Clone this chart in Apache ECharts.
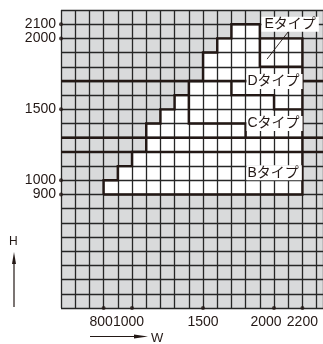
<!DOCTYPE html>
<html><head><meta charset="utf-8">
<script src="https://cdn.jsdelivr.net/npm/echarts@6/dist/echarts.min.js"></script>
<style>html,body{margin:0;padding:0;background:#fff}#c{width:323px;height:344px}</style>
</head><body><div id="c"></div>
<script>
// ---- data ----
const xTickLabels = [800, 1000, 1500, 2000, 2200];
const yTickLabels = [900, 1000, 1500, 2000, 2100];
// outline of the usable W×H area (staircase)
const outline = [[800,900],[2200,900],[2200,2000],[1900,2000],[1900,2100],[1700,2100],[1700,2000],[1600,2000],[1600,1900],[1500,1900],[1500,1700],[1400,1700],[1400,1600],[1300,1600],[1300,1500],[1200,1500],[1200,1400],[1100,1400],[1100,1200],[1000,1200],[1000,1100],[900,1100],[900,1000],[800,1000]];
// type boundaries
const boundaryE = [[1900,2000],[1900,1800],[2200,1800]];
const boundaryD = [[1700,1700],[1700,1600],[2000,1600],[2000,1500],[2200,1500]];
const boundaryC = [[1400,1600],[1400,1400],[1800,1400],[1800,1300]];
const fullLineH = [1700, 1300, 1200];
const typeNames = ['Eタイプ','Dタイプ','Cタイプ','Bタイプ'];
const typeLabelPos = [[1912,2100],[1806,1697],[1806,1400],[1806,1053]];
const leader = [[2099,2045],[1951,1854]];

const X_MIN = 500, X_MAX = 2345, Y_MIN = 100, Y_MAX = 2200;
const INK = '#231815';
const FONT = 'Liberation Sans, Arial, sans-serif';

const chart = echarts.init(document.getElementById('c'));
const paths = [outline.concat([outline[0]]), boundaryE, boundaryD, boundaryC]
  .concat(fullLineH.map(h => [[X_MIN,h],[X_MAX,h]]));

const shift = {800: 5, 1000: 7, 2000: 16};
chart.setOption({
  animation: false,
  grid: {left: 61, top: 10, width: 262, height: 298, show: true, backgroundColor: '#d9dadb', borderWidth: 0},
  xAxis: {
    type: 'value', min: X_MIN, max: X_MAX, interval: 100, z: 5,
    axisLine: {show: false}, axisTick: {show: false},
    axisLabel: {customValues: xTickLabels, hideOverlap: false, fontSize: 14, color: INK, margin: 7, fontFamily: FONT,
      formatter: v => shift[v] ? '{s' + shift[v] + '|' + v + '}' : String(v),
      rich: {s5: {fontSize: 14, fontFamily: FONT, color: INK, padding: [0, 5, 0, 0]},
             s7: {fontSize: 14, fontFamily: FONT, color: INK, padding: [0, 7, 0, 0]},
             s16: {fontSize: 14, fontFamily: FONT, color: INK, padding: [0, 16, 0, 0]}}},
    splitLine: {show: true, lineStyle: {color: '#262626', width: 1.3}}
  },
  yAxis: {
    type: 'value', min: Y_MIN, max: Y_MAX, interval: 100, z: 5,
    axisLine: {show: false}, axisTick: {show: false},
    axisLabel: {customValues: yTickLabels, hideOverlap: false, fontSize: 14, color: INK, margin: 5, fontFamily: FONT,
      formatter: v => String(v)},
    splitLine: {show: true, lineStyle: {color: '#262626', width: 1.3}}
  },
  series: [
    {
      type: 'custom', z: 1, silent: true, data: [[0]],
      renderItem: (p, api) => ({type: 'polygon', shape: {points: outline.map(v => api.coord(v))}, style: {fill: '#ffffff'}})
    },
    {
      type: 'custom', z: 10, silent: true, clip: false,
      data: paths.map((_, i) => [i]),
      renderItem: (p, api) => ({type: 'polyline', shape: {points: paths[api.value(0)].map(v => api.coord(v))},
        style: {stroke: INK, lineWidth: 2.4, fill: null, lineJoin: 'miter'}})
    },
    {
      type: 'custom', z: 11, silent: true, data: [[0]],
      renderItem: (p, api) => ({type: 'line', shape: (() => {const a = api.coord(leader[0]), b = api.coord(leader[1]); return {x1:a[0],y1:a[1],x2:b[0],y2:b[1]};})(),
        style: {stroke: INK, lineWidth: 0.9}})
    },
    {
      type: 'custom', z: 12, silent: true, clip: false,
      data: typeNames.map((_, i) => [i]),
      renderItem: (p, api) => {
        const i = api.value(0); const c = api.coord(typeLabelPos[i]);
        return {type: 'text', x: c[0], y: c[1], style: {text: typeNames[i], fill: INK, fontSize: 14,
          fontFamily: 'Liberation Sans, "Noto Sans CJK JP", sans-serif', align: 'left', verticalAlign: 'middle',
          backgroundColor: '#fff', padding: [1, 3, 0, i === 0 ? 3 : 1]}};
      }
    },
    {
      type: 'scatter', z: 13, silent: true, clip: false, symbol: 'circle', symbolSize: 4,
      itemStyle: {color: INK},
      data: xTickLabels.map(v => [v, Y_MIN]).concat(yTickLabels.map(v => [X_MIN, v]))
    }
  ],
  graphic: [
    {type: 'text', left: 9, top: 236, style: {text: 'H', fontSize: 12, fill: INK, fontFamily: FONT}},
    {type: 'line', shape: {x1: 14, y1: 307, x2: 14, y2: 258}, style: {stroke: INK, lineWidth: 1.2}},
    {type: 'polygon', shape: {points: [[14, 252], [16, 264], [12, 264]]}, style: {fill: INK}},
    {type: 'text', left: 151, top: 332, style: {text: 'W', fontSize: 13, fill: INK, fontFamily: FONT}},
    {type: 'line', shape: {x1: 90, y1: 336.5, x2: 140, y2: 336.5}, style: {stroke: INK, lineWidth: 1.2}},
    {type: 'polygon', shape: {points: [[148, 336.5], [134, 334.5], [134, 338.5]]}, style: {fill: INK}}
  ]
});
</script></body></html>
